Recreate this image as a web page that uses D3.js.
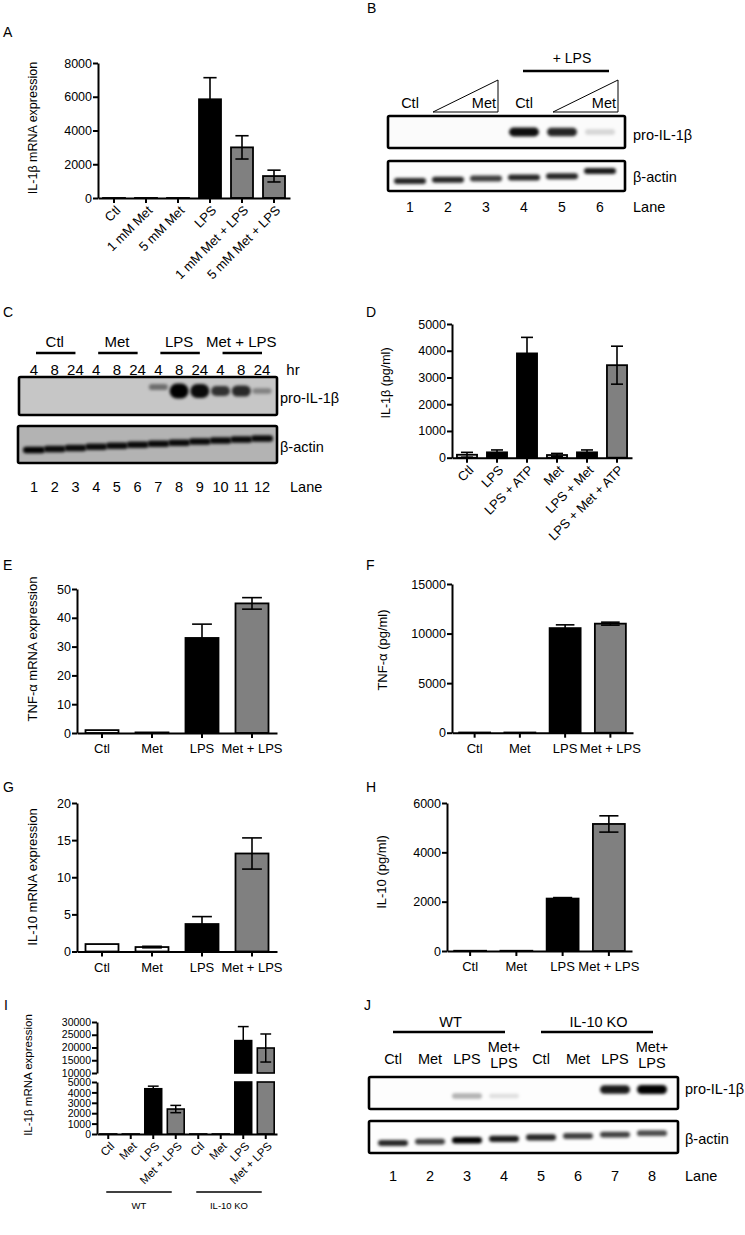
<!DOCTYPE html>
<html><head><meta charset="utf-8">
<script src="https://cdn.jsdelivr.net/npm/d3@7"></script>
<style>
body{margin:0;background:#fff;}
svg{display:block;font-family:"Liberation Sans",Arial,Helvetica,sans-serif;}
</style></head><body>
<svg id="fig" width="745" height="1235"></svg>
<script>
// ---------------- DATA ----------------
const catsA = ["Ctl","1 mM Met","5 mM Met","LPS","1 mM Met + LPS","5 mM Met + LPS"];
const valsA = [2, 3, 2, 5850, 3000, 1300];
const errA  = [0, 0, 0, 1280, 690, 350];
const ticksA = [0, 2000, 4000, 6000, 8000];

const catsD = ["Ctl","LPS","LPS + ATP","Met","LPS + Met","LPS + Met + ATP"];
const valsD = [110, 200, 3900, 100, 200, 3460];
const errD  = [90, 90, 600, 60, 90, 710];
const ticksD = [0, 1000, 2000, 3000, 4000, 5000];

const cats4 = ["Ctl","Met","LPS","Met + LPS"];
const valsE = [1.0, 0.2, 33, 45];
const errE  = [0, 0, 4.8, 2];
const ticksE = [0, 10, 20, 30, 40, 50];

const valsF = [20, 20, 10550, 11000];
const errF  = [0, 0, 330, 150];
const ticksF = [0, 5000, 10000, 15000];

const valsG = [1.0, 0.6, 3.7, 13.2];
const errG  = [0, 0.1, 1.0, 2.1];
const ticksG = [0, 5, 10, 15, 20];

const valsH = [10, 10, 2125, 5150];
const errH  = [0, 0, 40, 330];
const ticksH = [0, 2000, 4000, 6000];

const catsI = ["Ctl","Met","LPS","Met + LPS","Ctl","Met","LPS","Met + LPS"];
const groupsI = ["WT","IL-10 KO"];
const valsI = [5, 5, 4350, 2400, 5, 5, 22700, 19800];
const errI  = [0, 0, 250, 350, 0, 0, 5500, 5500];
const ticksIlow = [0, 1000, 2000, 3000, 4000, 5000];
const ticksIhigh = [10000, 15000, 20000, 25000, 30000];

// western blots: relative band intensity per lane
const lanesB = [1,2,3,4,5,6];
const proB   = [0, 0, 0, 0.95, 0.85, 0.15];
const actinB = [0.85, 0.85, 0.75, 0.85, 0.85, 0.9];

const lanesC = [1,2,3,4,5,6,7,8,9,10,11,12];
const groupsC = ["Ctl","Met","LPS","Met + LPS"];
const hoursC = ["4","8","24"];
const proC   = [0, 0, 0, 0, 0, 0, 0.45, 1, 0.95, 0.75, 0.8, 0.35];
const actinC = [1, 0.95, 0.95, 0.95, 0.95, 0.95, 0.95, 0.95, 0.95, 0.95, 0.95, 0.95];

const lanesJ = [1,2,3,4,5,6,7,8];
const groupsJ = ["WT","IL-10 KO"];
const treatJ = ["Ctl","Met","LPS","Met+|LPS","Ctl","Met","LPS","Met+|LPS"];
const proJ   = [0, 0, 0.3, 0.12, 0, 0, 0.9, 1];
const actinJ = [0.85, 0.75, 1, 0.9, 0.85, 0.75, 0.75, 0.7];

// ---------------- STYLE ----------------
const W = "#ffffff", K = "#000000", GR = "#808080";
const FONT = "'Liberation Sans', Arial, Helvetica, sans-serif";
const svg = d3.select("#fig");
const defs = svg.append("defs");
defs.append("filter").attr("id","blur").attr("x","-50%").attr("y","-150%").attr("width","200%").attr("height","400%")
  .append("feGaussianBlur").attr("stdDeviation", 1.6);

function txt(g, t, x, y, fs, anchor) {
  return g.append("text").attr("x", x).attr("y", y).attr("font-size", fs)
    .attr("text-anchor", anchor || "start").attr("fill", "#000").text(t);
}
function letter(t, x, y) { txt(svg, t, x, y, 14); }
function ylabel(t, x, y, fs) {
  svg.append("text").attr("transform", `translate(${x},${y}) rotate(-90)`)
    .attr("text-anchor","middle").attr("dy","0.35em").attr("font-size", fs || 13).text(t);
}
function styleAxis(a, fs) {
  a.attr("font-family", FONT).attr("font-size", fs || 12);
  a.select(".domain").attr("stroke-width", 2).attr("stroke", "#000");
  a.selectAll(".tick line").attr("stroke-width", 2).attr("stroke", "#000");
  a.selectAll(".tick text").attr("fill", "#000");
}

function barChart(o) {
  const g = svg.append("g");
  const n = o.cats.length;
  const x = d3.scaleBand().domain(d3.range(n)).range([o.x0, o.x1]).paddingInner(o.pad).paddingOuter(o.pad / 2);
  const y = d3.scaleLinear().domain([0, o.max]).range([o.yZero, o.yTop]);
  const bw = x.bandwidth();
  g.selectAll("rect.bar").data(o.vals).join("rect").attr("class","bar")
    .attr("x", (d,i) => x(i)).attr("width", bw)
    .attr("y", d => y(d)).attr("height", d => o.yZero - y(d))
    .attr("fill", (d,i) => o.fills[i]).attr("stroke", "#000").attr("stroke-width", 1.8);
  const eb = g.selectAll("g.err").data(o.vals.map((v,i) => ({v, e: o.errs[i], i})).filter(d => d.e > 0))
    .join("g").attr("class","err");
  const cw = bw * 0.3;
  eb.append("line").attr("x1", d => x(d.i) + bw/2).attr("x2", d => x(d.i) + bw/2)
    .attr("y1", d => y(d.v - d.e)).attr("y2", d => y(d.v + d.e)).attr("stroke","#000").attr("stroke-width",1.6);
  eb.append("line").attr("x1", d => x(d.i) + bw/2 - cw).attr("x2", d => x(d.i) + bw/2 + cw)
    .attr("y1", d => y(d.v + d.e)).attr("y2", d => y(d.v + d.e)).attr("stroke","#000").attr("stroke-width",1.6);
  eb.append("line").attr("x1", d => x(d.i) + bw/2 - cw).attr("x2", d => x(d.i) + bw/2 + cw)
    .attr("y1", d => y(d.v - d.e)).attr("y2", d => y(d.v - d.e)).attr("stroke","#000").attr("stroke-width",1.6);
  const ya = g.append("g").attr("transform", `translate(${o.x0},0)`)
    .call(d3.axisLeft(y).tickValues(o.ticks).tickSize(5).tickSizeOuter(0).tickPadding(1).tickFormat(d3.format("d")));
  styleAxis(ya, 12.5);
  const xa = g.append("g").attr("transform", `translate(0,${o.yZero})`)
    .call(d3.axisBottom(x).tickSize(5).tickSizeOuter(0).tickFormat(""));
  styleAxis(xa);
  if (o.rotate) {
    g.selectAll("text.xl").data(o.cats).join("text").attr("class","xl")
      .attr("transform", (d,i) => `translate(${x(i) + bw/2 + 4},${o.yZero + 10}) rotate(-45)`)
      .attr("text-anchor","end").attr("dy","0.35em").attr("font-size", 13).text(d => d);
  } else {
    g.selectAll("text.xl").data(o.cats).join("text").attr("class","xl")
      .attr("x", (d,i) => x(i) + bw/2).attr("y", o.yZero + 20)
      .attr("text-anchor","middle").attr("font-size", 13).text(d => d);
  }
  return {x, y};
}

function blot(o) {
  const g = svg.append("g");
  const cid = "clip" + o.id;
  defs.append("clipPath").attr("id", cid).append("rect")
    .attr("x", o.x0).attr("y", o.y0).attr("width", o.x1 - o.x0).attr("height", o.y1 - o.y0);
  g.append("rect").attr("x", o.x0).attr("y", o.y0).attr("width", o.x1 - o.x0).attr("height", o.y1 - o.y0)
    .attr("fill", o.bg);
  g.append("g").attr("clip-path", `url(#${cid})`)
    .selectAll("rect").data(o.vals).join("rect")
    .attr("x", (d,i) => o.lx(o.lanes[i]) - o.bw / 2).attr("width", o.bw)
    .attr("y", (d,i) => o.cy(i) - o.bh(d) / 2).attr("height", d => o.bh(d))
    .attr("rx", d => o.bh(d) / 2)
    .attr("fill", "#000").attr("fill-opacity", d => d).attr("filter", "url(#blur)");
  g.append("rect").attr("x", o.x0).attr("y", o.y0).attr("width", o.x1 - o.x0).attr("height", o.y1 - o.y0)
    .attr("fill", "none").attr("stroke", "#000").attr("stroke-width", 2.6).attr("rx", 1.5);
}

// ---------------- PANEL A ----------------
letter("A", 3, 37);
barChart({cats: catsA, vals: valsA, errs: errA, ticks: ticksA, max: 8000,
  x0: 98, x1: 290, yZero: 198, yTop: 63, pad: 0.3125, fills: [W, W, W, K, GR, GR], rotate: true});
ylabel("IL-1β mRNA expression", 33, 128, 12.5);

// ---------------- PANEL B ----------------
letter("B", 367, 13);
{
  const g = svg.append("g");
  const lx = d3.scalePoint().domain(lanesB).range([410, 600]);
  txt(g, "+ LPS", 572, 63, 14, "middle");
  g.append("line").attr("x1", 523).attr("x2", 609).attr("y1", 71).attr("y2", 71).attr("stroke","#000").attr("stroke-width",2.6);
  txt(g, "Ctl", lx(1), 108, 14.5, "middle");
  txt(g, "Ctl", lx(4), 108, 14.5, "middle");
  const tri = (a, b) => g.append("path").attr("d", `M${a},112 L${b},112 L${b},80 Z`).attr("fill","none").attr("stroke","#000").attr("stroke-width",1);
  tri(433, 498); tri(553, 618);
  txt(g, "Met", 496, 108, 14.5, "end");
  txt(g, "Met", 616, 108, 14.5, "end");
  blot({id: "B1", x0: 388, x1: 625, y0: 116, y1: 148, bg: "#fbfbfb", lanes: lanesB, lx, vals: proB,
    bw: 30, bh: d => 5 + 4 * d, cy: i => 132});
  blot({id: "B2", x0: 388, x1: 625, y0: 161, y1: 191, bg: "#fbfbfb", lanes: lanesB, lx, vals: actinB,
    bw: 32, bh: d => 6, cy: i => 181 - i * 1.2 - (i === 5 ? 4 : 0)});
  txt(g, "pro-IL-1β", 633, 140, 14.5);
  txt(g, "β-actin", 633, 182, 14.5);
  g.selectAll("text.lane").data(lanesB).join("text").attr("class","lane")
    .attr("x", d => lx(d)).attr("y", 212).attr("text-anchor","middle").attr("font-size",14).text(d => d);
  txt(g, "Lane", 633, 212, 14.5);
}

// ---------------- PANEL C ----------------
letter("C", 3, 317);
{
  const g = svg.append("g");
  const lx = d3.scalePoint().domain(lanesC).range([34, 262]);
  groupsC.forEach((t, k) => {
    const a = lx(lanesC[k*3]) , b = lx(lanesC[k*3+2]);
    txt(g, t, (a + b) / 2, 347, 15, "middle");
    g.append("line").attr("x1", a + 2).attr("x2", b + 0).attr("y1", 353).attr("y2", 353)
      .attr("stroke","#000").attr("stroke-width",2.6);
  });
  g.selectAll("text.hr").data(lanesC).join("text").attr("class","hr")
    .attr("x", d => lx(d)).attr("y", 375).attr("text-anchor","middle").attr("font-size",15)
    .text((d,i) => hoursC[i % 3]);
  txt(g, "hr", 293, 375, 15, "middle");
  blot({id: "C1", x0: 19, x1: 277, y0: 377, y1: 415, bg: "#c6c6c6", lanes: lanesC, lx, vals: proC,
    bw: 19, bh: d => 4 + 11 * d * d, cy: i => (i === 6 ? 387 : 391)});
  blot({id: "C2", x0: 18, x1: 277, y0: 426, y1: 463, bg: "#b3b3b3", lanes: lanesC, lx, vals: actinC,
    bw: 22, bh: (d) => 6.5, cy: i => 450 - i * 1.05});
  txt(g, "pro-IL-1β", 280, 403, 14.5);
  txt(g, "β-actin", 280, 452, 14.5);
  g.selectAll("text.lane").data(lanesC).join("text").attr("class","lane")
    .attr("x", d => lx(d)).attr("y", 492).attr("text-anchor","middle").attr("font-size",14.5).text(d => d);
  txt(g, "Lane", 290, 492, 14.5);
}

// ---------------- PANEL D ----------------
letter("D", 366, 317);
barChart({cats: catsD, vals: valsD, errs: errD, ticks: ticksD, max: 5000,
  x0: 452, x1: 632, yZero: 457.7, yTop: 324, pad: 0.33, fills: [W, K, K, W, K, GR], rotate: true});
ylabel("IL-1β (pg/ml)", 386, 383, 12.5);

// ---------------- PANEL E ----------------
letter("E", 3, 570);
barChart({cats: cats4, vals: valsE, errs: errE, ticks: ticksE, max: 50,
  x0: 77, x1: 277, yZero: 733, yTop: 589, pad: 0.34, fills: [W, W, K, GR], rotate: false});
ylabel("TNF-α mRNA expression", 32, 649, 13);

// ---------------- PANEL F ----------------
letter("F", 366, 570);
barChart({cats: cats4, vals: valsF, errs: errF, ticks: ticksF, max: 15000,
  x0: 452, x1: 633, yZero: 732.7, yTop: 584, pad: 0.315, fills: [W, W, K, GR], rotate: false});
ylabel("TNF-α (pg/ml)", 382, 650, 13);

// ---------------- PANEL G ----------------
letter("G", 3, 792);
barChart({cats: cats4, vals: valsG, errs: errG, ticks: ticksG, max: 20,
  x0: 77, x1: 277, yZero: 951.5, yTop: 803, pad: 0.34, fills: [W, W, K, GR], rotate: false});
ylabel("IL-10 mRNA expression", 32, 877, 13);

// ---------------- PANEL H ----------------
letter("H", 366, 792);
barChart({cats: cats4, vals: valsH, errs: errH, ticks: ticksH, max: 6000,
  x0: 447, x1: 632, yZero: 951, yTop: 803, pad: 0.31, fills: [W, W, K, GR], rotate: false});
ylabel("IL-10 (pg/ml)", 381, 872, 13);

// ---------------- PANEL I (broken axis) ----------------
letter("I", 4, 1010);
{
  const g = svg.append("g");
  const fills = [W, W, K, GR, W, W, K, GR];
  const x = d3.scaleBand().domain(d3.range(catsI.length)).range([97, 277]).paddingInner(0.25).paddingOuter(0.125);
  const bw = x.bandwidth();
  const yLow = d3.scaleLinear().domain([0, 5000]).range([1134, 1082]);
  const yHigh = d3.scaleLinear().domain([10000, 30000]).range([1073, 1022]);
  const yv = v => v > 10000 ? yHigh(v) : yLow(Math.min(v, 5000));
  g.selectAll("rect.lo").data(valsI).join("rect").attr("class","lo")
    .attr("x", (d,i) => x(i)).attr("width", bw)
    .attr("y", d => yLow(Math.min(d, 5000))).attr("height", d => 1134 - yLow(Math.min(d, 5000)))
    .attr("fill", (d,i) => fills[i]).attr("stroke","#000").attr("stroke-width",1.6);
  g.selectAll("rect.hi").data(valsI.map((v,i) => ({v,i})).filter(d => d.v > 10000)).join("rect").attr("class","hi")
    .attr("x", d => x(d.i)).attr("width", bw)
    .attr("y", d => yHigh(d.v)).attr("height", d => yHigh(10000) - yHigh(d.v))
    .attr("fill", d => fills[d.i]).attr("stroke","#000").attr("stroke-width",1.6);
  const cw = bw * 0.32;
  const eb = g.selectAll("g.err").data(valsI.map((v,i) => ({v, e: errI[i], i})).filter(d => d.e > 0)).join("g");
  eb.append("line").attr("x1", d => x(d.i) + bw/2).attr("x2", d => x(d.i) + bw/2)
    .attr("y1", d => yv(d.v - d.e)).attr("y2", d => yv(d.v + d.e)).attr("stroke","#000").attr("stroke-width",1.5);
  [1, -1].forEach(s => eb.append("line").attr("x1", d => x(d.i) + bw/2 - cw).attr("x2", d => x(d.i) + bw/2 + cw)
    .attr("y1", d => yv(d.v + s * d.e)).attr("y2", d => yv(d.v + s * d.e)).attr("stroke","#000").attr("stroke-width",1.5));
  const a1 = g.append("g").attr("transform","translate(97,0)")
    .call(d3.axisLeft(yLow).tickValues(ticksIlow).tickSize(5).tickSizeOuter(0).tickPadding(1).tickFormat(d3.format("d")));
  styleAxis(a1, 10.5);
  a1.selectAll(".tick text").attr("dy", "0.36em");
  const a2 = g.append("g").attr("transform","translate(97,0)")
    .call(d3.axisLeft(yHigh).tickValues(ticksIhigh).tickSize(5).tickSizeOuter(0).tickPadding(1).tickFormat(d3.format("d")));
  styleAxis(a2, 10.5);
  a2.selectAll(".tick text").attr("dy", "0.3em");
  const xa = g.append("g").attr("transform","translate(0,1134)")
    .call(d3.axisBottom(x).tickSize(5).tickSizeOuter(0).tickFormat(""));
  styleAxis(xa);
  g.selectAll("text.xl").data(catsI).join("text").attr("class","xl")
    .attr("transform", (d,i) => `translate(${x(i) + bw/2 + 4},${1134 + 10}) rotate(-45)`)
    .attr("text-anchor","end").attr("dy","0.35em").attr("font-size", 11.5).text(d => d);
  groupsI.forEach((t, k) => {
    const a = x(k*4) + bw/2 - 2, b = x(k*4 + 3) + bw/2 - 4;
    g.append("line").attr("x1", a).attr("x2", b).attr("y1", 1192).attr("y2", 1192).attr("stroke","#000").attr("stroke-width",1.3);
    txt(g, t, (a + b) / 2, 1209, 9.5, "middle");
  });
  ylabel("IL-1β mRNA expression", 28, 1075, 11.5);
}

// ---------------- PANEL J ----------------
letter("J", 364, 1010);
{
  const g = svg.append("g");
  const lx = d3.scalePoint().domain(lanesJ).range([393, 652]);
  groupsJ.forEach((t, k) => {
    const a = lx(lanesJ[k*4]), b = lx(lanesJ[k*4 + 3]);
    txt(g, t, (a + b) / 2 + 2, 1027, 14.5, "middle");
    g.append("line").attr("x1", a).attr("x2", b + 1).attr("y1", 1032).attr("y2", 1032).attr("stroke","#000").attr("stroke-width",2.6);
  });
  treatJ.forEach((t, i) => {
    const parts = t.split("|");
    if (parts.length === 1) txt(g, t, lx(lanesJ[i]), 1064, 14.5, "middle");
    else { txt(g, parts[0], lx(lanesJ[i]), 1052, 14.5, "middle"); txt(g, parts[1], lx(lanesJ[i]), 1068, 14.5, "middle"); }
  });
  blot({id: "J1", x0: 369, x1: 678, y0: 1077, y1: 1109, bg: "#fdfdfd", lanes: lanesJ, lx, vals: proJ,
    bw: 30, bh: d => 4 + 5 * d, cy: i => (i < 4 ? 1096 : 1089.5)});
  blot({id: "J2", x0: 369, x1: 678, y0: 1121, y1: 1153, bg: "#fdfdfd", lanes: lanesJ, lx, vals: actinJ,
    bw: 30, bh: d => 4 + 2.5 * d, cy: i => 1143 - i * 1.4});
  txt(g, "pro-IL-1β", 685, 1094, 14.5);
  txt(g, "β-actin", 685, 1144, 14.5);
  g.selectAll("text.lane").data(lanesJ).join("text").attr("class","lane")
    .attr("x", d => lx(d)).attr("y", 1181).attr("text-anchor","middle").attr("font-size",14.5).text(d => d);
  txt(g, "Lane", 685, 1181, 14.5);
}
</script>
</body></html>
